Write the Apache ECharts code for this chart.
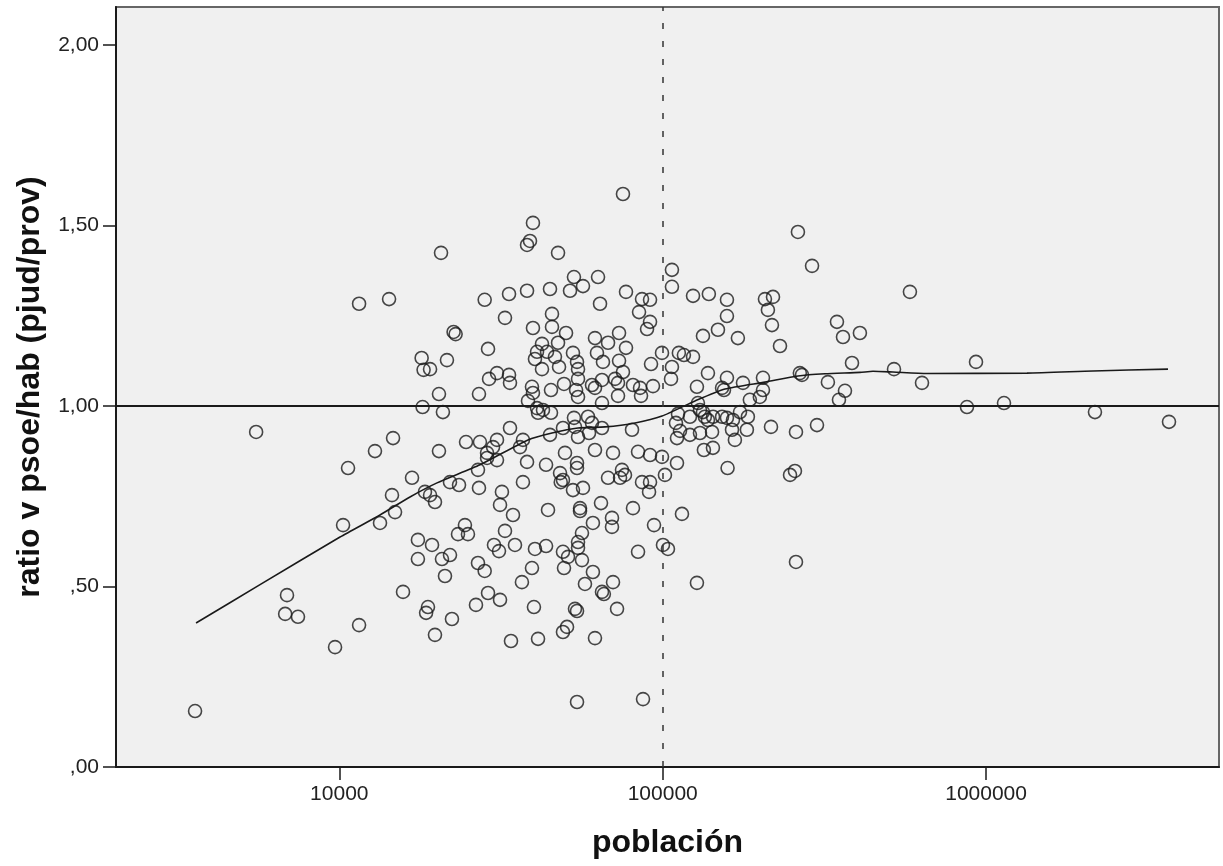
<!DOCTYPE html>
<html>
<head>
<meta charset="utf-8">
<title>ratio v psoe/hab por población</title>
<script src="https://cdn.jsdelivr.net/npm/echarts@6/dist/echarts.min.js"></script>
<style>
  html, body { margin: 0; padding: 0; background: #ffffff; }
  #chart { width: 1223px; height: 866px; }
</style>
</head>
<body>
<div id="chart"></div>
<script>
// Municipios: población y ratio de voto PSOE por habitante (partido judicial / provincia)
const poblacion = [
  3580, 5530, 6890, 6800, 7450, 9700, 10270, 10640, 11510, 14250,
  20630, 28150, 22560, 22890, 28830, 17970, 21520, 18220, 19080, 29040,
  30730, 20330, 27030, 18090, 20910, 14660, 12890, 20330, 24650, 27220,
  30730, 28630, 29880, 16780, 14550, 14870, 13360, 18400, 19080, 19760,
  21990, 23450, 26840, 27030, 28630, 30730, 31400, 31830, 17500, 19350,
  24460, 23280, 24990, 17500, 20770, 21990, 21220, 26840, 28150, 30080,
  31170, 15740, 18800, 18550, 22300, 19760, 26460, 28830, 31400, 11510,
  75360, 39700, 38060, 38870, 47460, 106800, 106800, 53160, 56690, 63100,
  33480, 38060, 44820, 51690, 64000, 77000, 86300, 91370, 84490, 91370,
  89440, 32530, 45460, 39700, 45460, 50240, 42340, 47460, 40870, 43880,
  46430, 40270, 42340, 47800, 52790, 54330, 54720, 61740, 67760, 73280,
  77000, 62620, 65360, 73280, 75360, 92020, 99500, 112200, 116300, 106800,
  106100, 33480, 33710, 39420, 39700, 45140, 49520, 54720, 53970, 54720,
  60440, 61740, 64900, 71220, 72750, 72750, 80930, 85090, 85690, 93320,
  38320, 40870, 42640, 45140, 41160, 64900, 53160, 58750, 60440, 53550,
  49160, 44820, 54720, 59180, 64900, 80370, 111500, 109900, 113100, 33710,
  36970, 36200, 49870, 61740, 70200, 83890, 91370, 99500, 38060, 43580,
  48140, 49160, 48380, 54330, 54330, 52790, 56690, 67760, 74830, 76440,
  73800, 86300, 91370, 90730, 101600, 110700, 36970, 34440, 44190, 55500,
  55500, 64450, 80930, 114700, 60840, 69690, 69690, 94000, 32530, 56280,
  54720, 54720, 34930, 40270, 43580, 49160, 50960, 49520, 56280, 60840,
  57490, 70200, 64900, 65780, 83890, 100200, 103800, 39420, 36700, 39980,
  53550, 54330, 72240, 50600, 49160, 33950, 41160, 61740, 54330, 86920,
  261900, 289600, 124100, 138900, 158000, 158000, 207100, 219300, 211500, 217700,
  148200, 133200, 170800, 230500, 345800, 361000, 407200, 384900, 124100, 138000,
  127600, 158000, 152600, 154700, 177100, 204200, 204200, 199700, 186000, 265500,
  269600, 324200, 366100, 350800, 128500, 130400, 133200, 135000, 138000, 143100,
  110700, 121400, 121400, 130400, 142100, 152600, 158000, 164900, 173400, 183400,
  163800, 182100, 167200, 134100, 143000, 216200, 258300, 300000, 158700, 247600,
  256400, 258300, 127600, 581400, 519100, 633600, 930700, 872800, 1136000, 2171000,
  3678000
];
const ratio = [
  0.155, 0.928, 0.476, 0.424, 0.416, 0.332, 0.670, 0.828, 1.283, 1.296,
  1.424, 1.294, 1.205, 1.199, 1.158, 1.133, 1.127, 1.100, 1.102, 1.075,
  1.091, 1.033, 1.033, 0.997, 0.983, 0.911, 0.875, 0.875, 0.900, 0.900,
  0.906, 0.870, 0.886, 0.801, 0.753, 0.706, 0.676, 0.762, 0.753, 0.734,
  0.789, 0.781, 0.823, 0.773, 0.856, 0.850, 0.726, 0.762, 0.629, 0.615,
  0.670, 0.645, 0.645, 0.576, 0.576, 0.587, 0.529, 0.565, 0.543, 0.615,
  0.598, 0.485, 0.443, 0.427, 0.410, 0.366, 0.449, 0.482, 0.463, 0.393,
  1.587, 1.507, 1.446, 1.457, 1.424, 1.377, 1.330, 1.357, 1.332, 1.357,
  1.310, 1.319, 1.324, 1.319, 1.283, 1.316, 1.296, 1.294, 1.260, 1.233,
  1.213, 1.244, 1.255, 1.216, 1.219, 1.202, 1.172, 1.175, 1.150, 1.150,
  1.136, 1.130, 1.102, 1.108, 1.147, 1.122, 1.102, 1.188, 1.175, 1.202,
  1.161, 1.147, 1.122, 1.125, 1.094, 1.116, 1.147, 1.147, 1.141, 1.108,
  1.075, 1.086, 1.064, 1.053, 1.036, 1.044, 1.061, 1.075, 1.044, 1.025,
  1.058, 1.050, 1.072, 1.075, 1.064, 1.028, 1.058, 1.050, 1.028, 1.055,
  1.014, 0.994, 0.989, 0.981, 0.981, 1.008, 0.967, 0.970, 0.953, 0.942,
  0.939, 0.920, 0.914, 0.925, 0.939, 0.934, 0.978, 0.953, 0.931, 0.939,
  0.906, 0.886, 0.870, 0.878, 0.870, 0.873, 0.864, 0.859, 0.845, 0.837,
  0.814, 0.795, 0.789, 0.842, 0.828, 0.767, 0.773, 0.801, 0.823, 0.809,
  0.801, 0.789, 0.789, 0.762, 0.809, 0.842, 0.789, 0.698, 0.712, 0.717,
  0.709, 0.731, 0.717, 0.701, 0.676, 0.690, 0.665, 0.670, 0.654, 0.648,
  0.623, 0.607, 0.615, 0.604, 0.612, 0.596, 0.582, 0.551, 0.573, 0.540,
  0.507, 0.512, 0.485, 0.479, 0.596, 0.615, 0.604, 0.551, 0.512, 0.443,
  0.438, 0.432, 0.438, 0.388, 0.374, 0.349, 0.355, 0.357, 0.180, 0.188,
  1.482, 1.388, 1.305, 1.310, 1.294, 1.249, 1.296, 1.302, 1.266, 1.224,
  1.211, 1.194, 1.188, 1.166, 1.233, 1.191, 1.202, 1.119, 1.136, 1.091,
  1.053, 1.078, 1.050, 1.044, 1.064, 1.078, 1.044, 1.025, 1.017, 1.091,
  1.086, 1.066, 1.042, 1.017, 1.008, 0.989, 0.983, 0.970, 0.961, 0.970,
  0.911, 0.970, 0.920, 0.925, 0.928, 0.970, 0.967, 0.961, 0.983, 0.970,
  0.934, 0.934, 0.906, 0.878, 0.884, 0.942, 0.928, 0.947, 0.828, 0.809,
  0.820, 0.568, 0.510, 1.316, 1.102, 1.064, 1.122, 0.997, 1.008, 0.983,
  0.956
];

// Curva de ajuste (suavizado) sobre la nube de puntos
const curvaPoblacion = [
  3605, 5686, 10050, 13360, 16540, 20050, 27230, 38330, 45470, 54720,
  66310, 82110, 99500, 125900, 155800, 207200, 262000, 317600, 407400, 447000,
  515400, 656700, 1338000, 2141000, 3652000
];
const curvaRatio = [
  0.399, 0.505, 0.637, 0.698, 0.748, 0.787, 0.837, 0.906, 0.925, 0.939,
  0.942, 0.953, 0.972, 1.014, 1.047, 1.066, 1.083, 1.089, 1.093, 1.096,
  1.094, 1.090, 1.091, 1.097, 1.102
];

const xTicks = [10000, 100000, 1000000];
const yTicks = [0, 0.5, 1, 1.5, 2];
const referenciaRatio = 1;
const referenciaPoblacion = 100000;

const xMin = 2039;
const xMax = 5251000;

const FONT = "'Liberation Sans', Arial, sans-serif";
const INK = '#1a1a1a';

const puntos = poblacion.map((p, i) => [p, ratio[i]]);
const curva = curvaPoblacion.map((p, i) => [p, curvaRatio[i]]);

function fmtRatio(v) {
  return v.toFixed(2).replace('.', ',').replace(/^0/, '');
}

const chart = echarts.init(document.getElementById('chart'), null, { renderer: 'canvas' });

chart.setOption({
  animation: false,
  backgroundColor: '#ffffff',
  grid: {
    left: 116, right: 4, top: 7, bottom: 99,
    show: true,
    backgroundColor: '#f0f0f0',
    borderColor: '#666666',
    borderWidth: 2,
    outerBoundsMode: 'none'
  },
  xAxis: [
    {
      // eje logarítmico que sitúa los datos
      type: 'log',
      logBase: 10,
      min: xMin,
      max: xMax,
      position: 'bottom',
      axisLine: { show: true, lineStyle: { color: INK, width: 2 } },
      axisTick: { show: false },
      axisLabel: { show: false },
      splitLine: { show: false }
    },
    {
      // marcas y etiquetas en las potencias de diez
      type: 'value',
      min: Math.log10(xMin),
      max: Math.log10(xMax),
      position: 'bottom',
      axisLine: { show: false },
      axisTick: {
        show: true,
        length: 13,
        customValues: xTicks.map(v => Math.log10(v)),
        lineStyle: { color: INK, width: 1.5 }
      },
      axisLabel: {
        show: true,
        margin: 17,
        customValues: xTicks.map(v => Math.log10(v)),
        formatter: v => String(Math.round(Math.pow(10, v))),
        color: '#222222',
        fontFamily: FONT,
        fontSize: 21
      },
      splitLine: { show: false },
      name: 'población',
      nameLocation: 'middle',
      nameGap: 60,
      nameTextStyle: { color: '#111111', fontFamily: FONT, fontSize: 32, fontWeight: 'bold' }
    }
  ],
  yAxis: {
    type: 'value',
    min: 0,
    max: 2.105,
    axisLine: { show: true, lineStyle: { color: INK, width: 2 } },
    axisTick: {
      show: true,
      length: 13,
      customValues: yTicks,
      lineStyle: { color: INK, width: 1.5 }
    },
    axisLabel: {
      show: true,
      margin: 17,
      customValues: yTicks,
      formatter: fmtRatio,
      color: '#222222',
      fontFamily: FONT,
      fontSize: 21
    },
    splitLine: { show: false },
    name: 'ratio v psoe/hab (pjud/prov)',
    nameLocation: 'middle',
    nameGap: 70,
    nameTextStyle: { color: '#111111', fontFamily: FONT, fontSize: 32, fontWeight: 'bold' }
  },
  series: [
    {
      type: 'scatter',
      xAxisIndex: 0,
      data: puntos,
      symbol: 'circle',
      symbolSize: 13,
      itemStyle: { color: 'rgba(0,0,0,0)', borderColor: INK, borderWidth: 1.6 },
      emphasis: { disabled: true },
      silent: true,
      z: 2,
      markLine: {
        silent: true,
        symbol: ['none', 'none'],
        label: { show: false },
        animation: false,
        data: [
          { yAxis: referenciaRatio, lineStyle: { color: INK, width: 2, type: 'solid' } },
          { xAxis: referenciaPoblacion, lineStyle: { color: '#333333', width: 1.5, type: [6, 12] } }
        ]
      }
    },
    {
      type: 'line',
      xAxisIndex: 0,
      data: curva,
      showSymbol: false,
      smooth: 0.2,
      lineStyle: { color: INK, width: 1.6 },
      silent: true,
      z: 3
    }
  ]
});
</script>
</body>
</html>
